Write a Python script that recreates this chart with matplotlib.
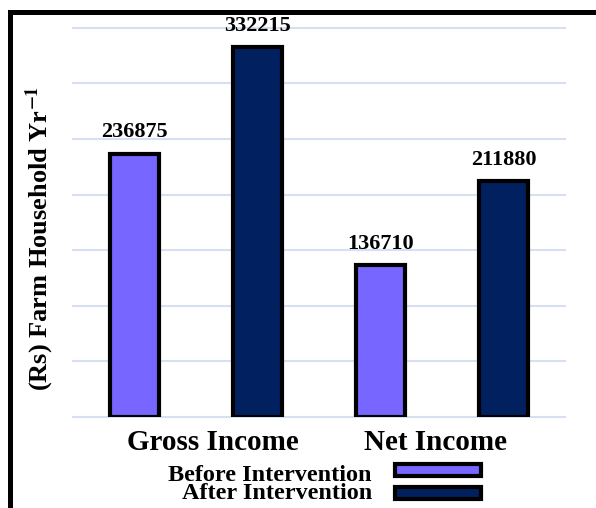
import matplotlib
matplotlib.use("Agg")
import matplotlib.pyplot as plt
from matplotlib.patches import Rectangle
from matplotlib.transforms import ScaledTranslation
import numpy as np

categories = ["Gross Income", "Net Income"]
series_names = ["Before Intervention", "After Intervention"]
before = [236875, 136710]
after = [332215, 211880]
colors = ["#7766FF", "#002060"]

plt.rcParams['font.family'] = ['Liberation Serif', 'DejaVu Serif']
plt.rcParams['mathtext.fontset'] = 'stix'

W, H = 596, 508
fig = plt.figure(figsize=(W / 100, H / 100), dpi=100)
ax = fig.add_axes([73 / W, (H - 417) / H, (565 - 73) / W, (417 - 27.7) / H])

x = np.arange(len(categories))
off = 0.25
bw = 0.2
for vals, name, col, sgn in [(before, series_names[0], colors[0], -1), (after, series_names[1], colors[1], 1)]:
    bars = ax.bar(x + sgn * off, vals, width=bw, color=col, edgecolor="black", linewidth=3.0, label=name, zorder=3)
    for b, v in zip(bars, vals):
        ax.annotate(f"{v}", (b.get_x() + b.get_width() / 2, v), xytext=(0, 8), textcoords="offset points",
                    ha="center", va="bottom", fontsize=16, fontweight="bold", zorder=4)

ax.set_xlim(-0.5, 1.5)
ax.set_ylim(0, 350000)
ax.set_yticks(np.arange(0, 350001, 50000))
ax.yaxis.grid(True, color="#D6E0F2", linewidth=1.5, zorder=0)
ax.tick_params(axis="y", length=0, labelleft=False)
ax.tick_params(axis="x", length=0, labelsize=21, pad=9)
ax.set_xticks(x)
ax.set_xticklabels(categories, fontweight="bold")
for lbl, dx in zip(ax.get_xticklabels(), [0.17, -0.07]):
    lbl.set_transform(lbl.get_transform() + ScaledTranslation(dx, 0, fig.dpi_scale_trans))
for s in ax.spines.values():
    s.set_visible(False)
for gl in ax.get_ygridlines():
    gl.set_clip_on(False)

fig.text(40 / W, 1 - 238 / H, "(Rs) Farm Household Yr$^{\\mathbf{-1}}$", rotation=90, ha="center", va="center",
         fontsize=19, fontweight="bold")

# legend, drawn by hand to match the tight stacking of the original
leg_rows = [(series_names[0], colors[0], 469.5, 481), (series_names[1], colors[1], 492.5, 499)]
for name, col, patch_cy, text_base in leg_rows:
    fig.add_artist(Rectangle((395 / W, 1 - (patch_cy + 6) / H), 86 / W, 12 / H, transform=fig.transFigure,
                             facecolor=col, edgecolor="black", linewidth=3.0))
    fig.text(372 / W, 1 - text_base / H, name, ha="right", va="baseline", fontsize=17.5, fontweight="bold")

fig.add_artist(Rectangle((10 / W, -0.2), 1.5, 1.2 - 12 / H, transform=fig.transFigure,
                         fill=False, edgecolor="black", linewidth=3.6, clip_on=False))

fig.savefig("out.png", dpi=100)
